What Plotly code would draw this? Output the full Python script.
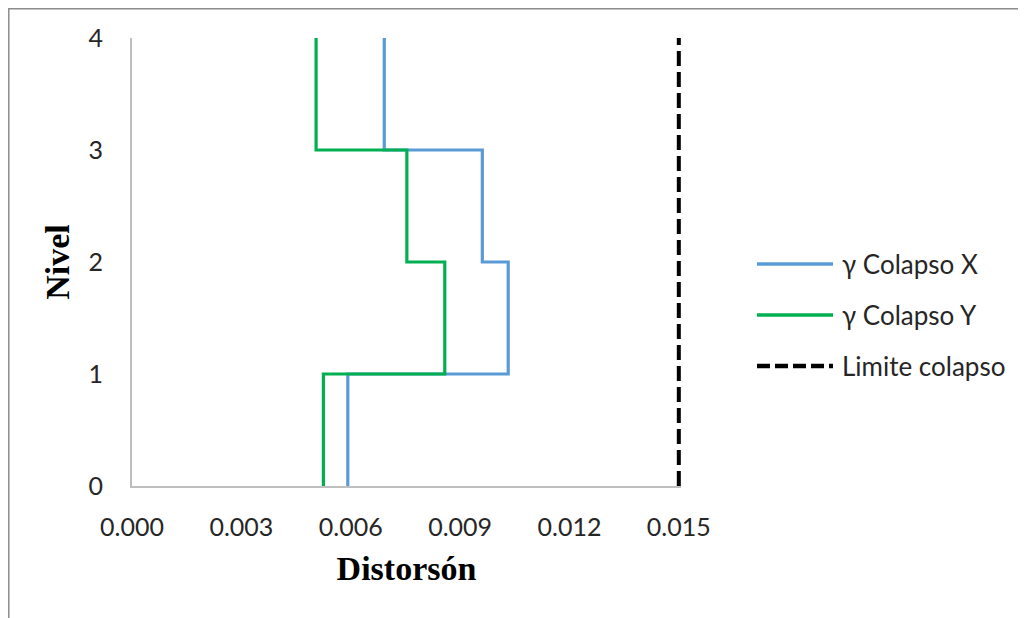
import plotly.graph_objects as go

# Data
niveles = [0, 1, 2, 3, 4]
colapso_x = [0.00592, 0.01032, 0.00961, 0.00692]   # story drift, stories 1..4
colapso_y = [0.00525, 0.00858, 0.00754, 0.00505]
limite = 0.015
series_names = ["γ Colapso X", "γ Colapso Y", "Limite colapso"]
x_ticks = [0.000, 0.003, 0.006, 0.009, 0.012, 0.015]
y_ticks = [0, 1, 2, 3, 4]

colors = ["#5B9BD5", "#00B050", "#000000"]


def step_profile(values, levels):
    xs, ys = [], []
    for i, v in enumerate(values):
        xs += [v, v]
        ys += [levels[i], levels[i + 1]]
    return xs, ys


fig = go.Figure()
for vals, name, col in [(colapso_x, series_names[0], colors[0]),
                        (colapso_y, series_names[1], colors[1])]:
    xs, ys = step_profile(vals, niveles)
    fig.add_trace(go.Scatter(x=xs, y=ys, mode="lines", name=name,
                             line=dict(color=col, width=3.2), showlegend=False))

fig.add_trace(go.Scatter(x=[limite, limite], y=[niveles[0], niveles[-1]], mode="lines",
                         name=series_names[2],
                         line=dict(color=colors[2], width=4, dash="15px,6px"),
                         showlegend=False))

# Page has an 8px body margin; figure sized to fit the 1026x618 window
OFF = 8
W, H = 1026 - OFF, 618 - OFF
L, R, T, B = 124, 345, 30, 132
pw, ph = W - L - R, H - T - B
x_max = 0.01506  # small pad so the limit line is not clipped at the plot edge


def px_x(p):   # page pixel -> paper x
    return (p - OFF - L) / pw


def px_y(p):   # page pixel -> paper y
    return (H - B - (p - OFF)) / ph


fig.update_layout(
    width=W, height=H,
    margin=dict(l=L, r=R, t=T, b=B),
    paper_bgcolor="white", plot_bgcolor="white",
    font=dict(family="Lato, Calibri, sans-serif", size=25, color="#262626"),
    xaxis=dict(range=[0, x_max], tickvals=x_ticks, tickformat=".3f",
               showgrid=False, zeroline=False, showline=True,
               linecolor="#BFBFBF", linewidth=2, ticks="",
               tickfont=dict(size=25),
               ticklabelstandoff=18,
               title=dict(text="<b>Distorsón</b>", standoff=16,
                          font=dict(family="Liberation Serif, Times New Roman, serif",
                                    size=34, color="black"))),
    yaxis=dict(range=[0, 4], tickvals=y_ticks,
               showgrid=False, zeroline=False, showline=True,
               linecolor="#BFBFBF", linewidth=2, ticks="",
               tickfont=dict(size=25),
               ticklabelstandoff=22,
               title=dict(text="<b>Nivel</b>", standoff=9,
                          font=dict(family="Liberation Serif, Times New Roman, serif",
                                    size=34, color="black"))),
)

# Manual legend matching the reference layout
legend_rows = [264, 315, 366]
for name, col, yrow, dash, lw in zip(series_names, colors, legend_rows,
                                     ["solid", "solid", "13px,5px"], [3.5, 3.5, 4.5]):
    fig.add_shape(type="line", xref="paper", yref="paper",
                  x0=px_x(757), x1=px_x(833), y0=px_y(yrow), y1=px_y(yrow),
                  line=dict(color=col, width=lw, dash=dash))
    fig.add_annotation(xref="paper", yref="paper", x=px_x(840), y=px_y(yrow),
                       text=name, showarrow=False, xanchor="left", yanchor="middle",
                       font=dict(family="Lato, Calibri, sans-serif", size=26, color="#262626"))

# Outer chart border
fig.add_shape(type="rect", xref="paper", yref="paper",
              x0=px_x(8.8), x1=px_x(1040), y0=px_y(640), y1=px_y(8.8),
              line=dict(color="#8C8C8C", width=1.5), layer="below")

fig.write_html("out.html")
